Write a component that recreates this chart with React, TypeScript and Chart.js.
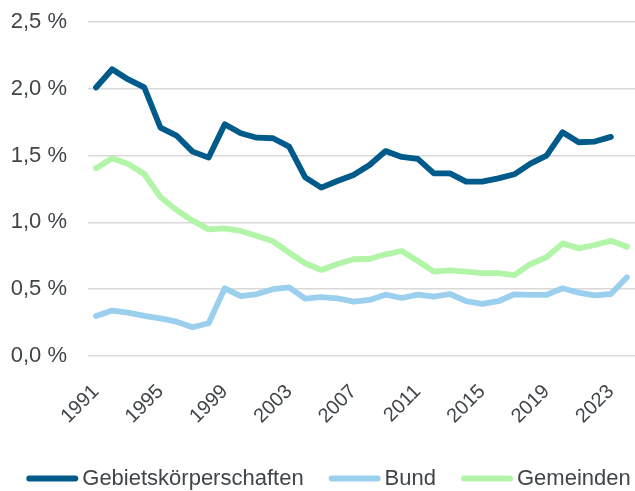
import React, { useEffect, useRef } from "react";
import { Chart, registerables } from "chart.js";

Chart.register(...registerables);

const years = [
  1991, 1992, 1993, 1994, 1995, 1996, 1997, 1998, 1999, 2000, 2001, 2002,
  2003, 2004, 2005, 2006, 2007, 2008, 2009, 2010, 2011, 2012, 2013, 2014,
  2015, 2016, 2017, 2018, 2019, 2020, 2021, 2022, 2023, 2024,
];

const gebietskoerperschaften = [
  2.01, 2.146, 2.07, 2.01, 1.71, 1.65, 1.53, 1.485, 1.735, 1.667, 1.634, 1.63,
  1.567, 1.337, 1.26, 1.31, 1.355, 1.43, 1.534, 1.49, 1.475, 1.367, 1.367,
  1.305, 1.305, 1.33, 1.36, 1.44, 1.5, 1.675, 1.6, 1.605, 1.64, null,
];

const bund = [
  0.3, 0.34, 0.324, 0.3, 0.282, 0.257, 0.215, 0.245, 0.507, 0.449, 0.464, 0.5,
  0.514, 0.43, 0.44, 0.432, 0.407, 0.42, 0.459, 0.434, 0.459, 0.444, 0.464,
  0.41, 0.39, 0.41, 0.462, 0.457, 0.457, 0.507, 0.474, 0.454, 0.464, 0.589,
];

const gemeinden = [
  1.405, 1.48, 1.437, 1.362, 1.19, 1.093, 1.013, 0.948, 0.956, 0.936, 0.898,
  0.858, 0.773, 0.694, 0.644, 0.689, 0.724, 0.726, 0.761, 0.786, 0.711, 0.631,
  0.641, 0.631, 0.621, 0.621, 0.606, 0.689, 0.739, 0.843, 0.806, 0.831, 0.863,
  0.818,
];

const seriesNames = ["Gebietskörperschaften", "Bund", "Gemeinden"];
const seriesColors = ["#005A8A", "#9BCFEE", "#B3F5A8"];
const yTicks = [0, 0.5, 1.0, 1.5, 2.0, 2.5];

const FONT = "'Liberation Sans', Arial, sans-serif";
const TEXT = "#3F4549";

const legendPlugin = {
  id: "bottomLegend",
  afterDraw(chart: any) {
    const ctx = chart.ctx;
    const sw = 52;
    const gapText = 4;
    const gapItem = 25;
    const cy = 478.5;
    ctx.save();
    ctx.font = `22px ${FONT}`;
    const items = chart.data.datasets.map((ds: any) => ({
      label: ds.label as string,
      color: ds.borderColor as string,
      w: ctx.measureText(ds.label).width,
    }));
    const total =
      items.reduce((s: number, it: any) => s + sw + gapText + it.w, 0) +
      gapItem * (items.length - 1);
    let x = 328.5 - total / 2;
    ctx.textBaseline = "middle";
    ctx.textAlign = "left";
    items.forEach((it: any) => {
      ctx.strokeStyle = it.color;
      ctx.lineWidth = 6;
      ctx.lineCap = "round";
      ctx.beginPath();
      ctx.moveTo(x + 3, cy);
      ctx.lineTo(x + sw - 3, cy);
      ctx.stroke();
      ctx.fillStyle = TEXT;
      ctx.fillText(it.label, x + sw + gapText, cy);
      x += sw + gapText + it.w + gapItem;
    });
    ctx.restore();
  },
};

export default function App() {
  const ref = useRef<HTMLCanvasElement | null>(null);

  useEffect(() => {
    if (!ref.current) return;
    const data = [gebietskoerperschaften, bund, gemeinden];
    const chart = new Chart(ref.current, {
      type: "line",
      data: {
        labels: years.map(String),
        datasets: data.map((d, i) => ({
          label: seriesNames[i],
          data: d,
          borderColor: seriesColors[i],
          backgroundColor: seriesColors[i],
          borderWidth: 5.8,
          pointRadius: 0,
          pointHoverRadius: 0,
          tension: 0,
          borderJoinStyle: "round" as const,
          borderCapStyle: "round" as const,
          spanGaps: false,
        })),
      },
      plugins: [legendPlugin],
      options: {
        animation: false,
        responsive: false,
        maintainAspectRatio: false,
        layout: { padding: { top: 0, right: 0, left: 0, bottom: 0 } },
        plugins: {
          tooltip: { enabled: false },
          legend: { display: false },
        },
        scales: {
          x: {
            offset: true,
            grid: { display: false },
            border: { display: false },
            afterFit: (axis: any) => {
              axis.paddingLeft = 0;
              axis.paddingRight = 0;
              axis.height = 135;
            },
            ticks: {
              autoSkip: false,
              maxRotation: 45,
              minRotation: 45,
              color: TEXT,
              font: { family: FONT, size: 20 },
              padding: 16,
              callback: (_v: any, i: number) => (i % 4 === 0 ? String(years[i]) : ""),
            },
          },
          y: {
            min: 0,
            max: 2.5,
            afterBuildTicks: (axis: any) => {
              axis.ticks = yTicks.map((v) => ({ value: v }));
            },
            afterFit: (axis: any) => {
              axis.width = 88;
              axis.paddingTop = 22;
              axis.paddingBottom = 0;
            },
            grid: { color: "#D9D9D9", lineWidth: 1.5, drawTicks: false },
            border: { display: false },
            ticks: {
              color: TEXT,
              font: { family: FONT, size: 22 },
              padding: 21,
              callback: (v: any) => Number(v).toFixed(1).replace(".", ",") + " %",
            },
          },
        },
      },
    });
    return () => chart.destroy();
  }, []);

  return (
    <div style={{ position: "fixed", left: 0, top: 0, width: 635, height: 491, background: "#fff" }}>
      <canvas ref={ref} width={635} height={491} style={{ display: "block" }} />
    </div>
  );
}
